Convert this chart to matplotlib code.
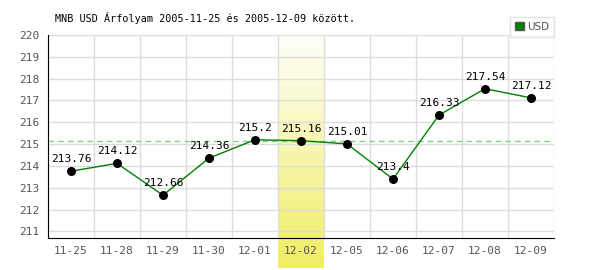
import numpy as np
import matplotlib
matplotlib.use("Agg")
import matplotlib.pyplot as plt
from matplotlib.colors import LinearSegmentedColormap

dates = ["11-25", "11-28", "11-29", "11-30", "12-01", "12-02",
         "12-05", "12-06", "12-07", "12-08", "12-09"]
usd = [213.76, 214.12, 212.66, 214.36, 215.2, 215.16,
       215.01, 213.4, 216.33, 217.54, 217.12]
highlight = 5
ref_level = 215.16
yticks = list(range(211, 221))

mono = "DejaVu Sans Mono"
fig = plt.figure(figsize=(6, 2.7), dpi=100)
ax = fig.add_axes([48 / 600, 32 / 270, 506 / 600, 203 / 270])
ymin, ymax = 210.7, 220.0

# highlight band with gradient, sticking out of the axes
ppu = 203 / (ymax - ymin)
cmap = LinearSegmentedColormap.from_list("hl", ["#ffffff", "#f0ee62"])
grad = np.linspace(0, 1, 256).reshape(-1, 1)
ax.imshow(grad, cmap=cmap, aspect="auto", origin="upper",
          extent=[highlight - 0.5, highlight + 0.5,
                  ymin - 30 / ppu, ymax + 7 / ppu],
          clip_on=False, zorder=0)
ax.set_xlim(-0.5, len(dates) - 0.5)
ax.set_ylim(ymin, ymax)

for k in range(len(dates) + 1):
    ax.axvline(k - 0.5, color="#dddddd", lw=1, zorder=1)
for v in yticks:
    ax.axhline(v, color="#dddddd", lw=1, zorder=1)

ax.axhline(ref_level, color="#88cc88", lw=1, ls=(0, (4, 3)), zorder=2)

x = np.arange(len(dates))
ax.plot(x, usd, color="#008000", lw=1, zorder=3)
ax.scatter(x, usd, s=30, color="black", zorder=4)
for xi, v in zip(x, usd):
    ax.annotate(f"{v:g}", (xi, v), xytext=(0, 5), textcoords="offset points",
                ha="center", va="bottom", fontsize=8, family=mono, zorder=5)

ax.set_xticks(x)
ax.set_xticklabels(dates)
ax.set_yticks(yticks)
ax.tick_params(length=0, labelsize=8, colors="#555555", pad=6)
for lab in ax.get_xticklabels() + ax.get_yticklabels():
    lab.set_family(mono)
for s in ["top", "right"]:
    ax.spines[s].set_visible(False)
ax.spines["left"].set_color("black")
ax.spines["bottom"].set_color("black")
ax.set_facecolor("none")

fig.text(55 / 600, 1 - 18 / 270, "MNB USD Árfolyam 2005-11-25 és 2005-12-09 között.",
         family=mono, fontsize=7.3, va="center", ha="left")

leg = ax.legend(handles=[plt.Rectangle((0, 0), 1, 1, fc="#008000", ec="#555555")],
                labels=["USD"], loc="lower right", bbox_to_anchor=(1.0, 0.99),
                bbox_transform=ax.transAxes, frameon=True, fancybox=False,
                fontsize=7.5, handlelength=0.8, handleheight=0.8,
                handletextpad=0.3, borderpad=0.5, borderaxespad=0.0)
leg.get_frame().set_edgecolor("#dddddd")
leg.get_frame().set_linewidth(1)
for t in leg.get_texts():
    t.set_color("#555555")

fig.savefig("out.png", dpi=100)
